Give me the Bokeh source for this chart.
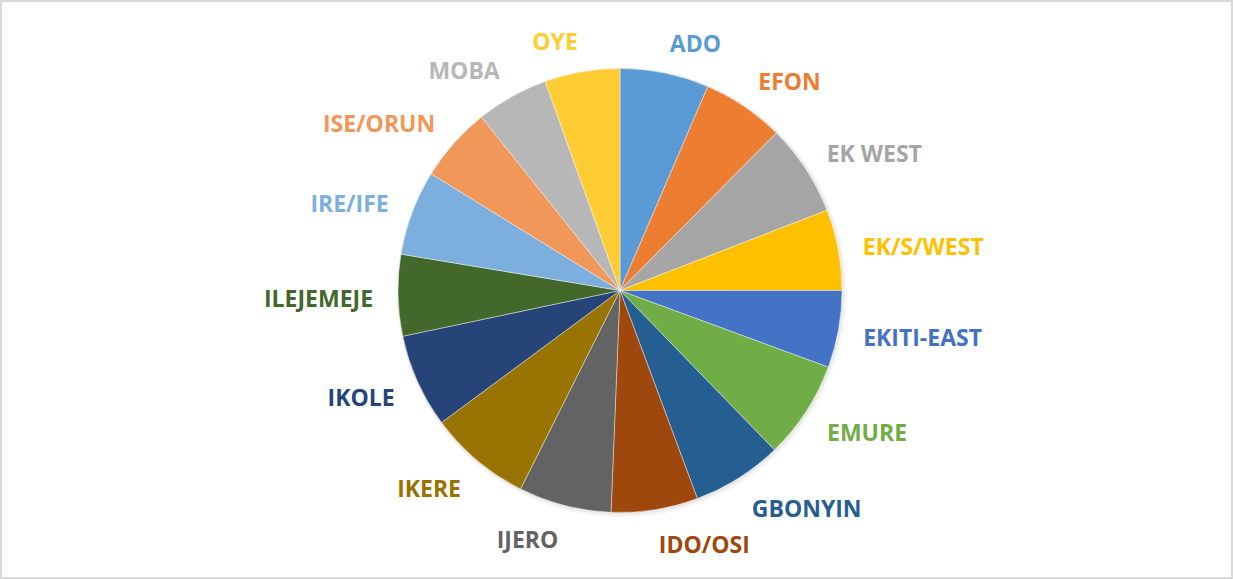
import numpy as np
from bokeh.plotting import figure
from bokeh.models import ColumnDataSource, Range1d
from bokeh.core.properties import value
from bokeh.embed import file_html
from bokeh.resources import INLINE

# ---- data ----
districts = ["ADO", "EFON", "EK WEST", "EK/S/WEST", "EKITI-EAST", "EMURE",
             "GBONYIN", "IDO/OSI", "IJERO", "IKERE", "IKOLE", "ILEJEMEJE",
             "IRE/IFE", "ISE/ORUN", "MOBA", "OYE"]
shares = [6.47, 5.97, 6.67, 5.89, 5.61, 7.14, 6.58, 6.31,
          6.75, 7.47, 6.83, 5.92, 6.19, 5.47, 5.25, 5.47]
colors = ["#5B9BD5", "#ED7D31", "#A5A5A5", "#FFC000", "#4472C4", "#70AD47",
          "#255E91", "#9E480E", "#636363", "#997300", "#264478", "#43682B",
          "#7CAFDD", "#F1975A", "#B7B7B7", "#FFCD33"]

# ---- layout ----
W, H = 1233, 579
cx, cy, r = 619.5, 289.0, 222.0
rx_lab, ry_lab = 247.0, 255.0

frac = np.array(shares) / np.sum(shares)
cum = np.concatenate([[0.0], np.cumsum(frac)]) * 2 * np.pi  # clockwise from top
start = np.pi / 2 - cum[1:]
end = np.pi / 2 - cum[:-1]
mid = (cum[:-1] + cum[1:]) / 2

src = ColumnDataSource(dict(start=start, end=end, color=colors, name=districts))

lx = cx + rx_lab * np.sin(mid)
ly = cy - 2 + ry_lab * np.cos(mid)
align = ["left" if np.sin(m) >= 0 else "right" for m in mid]
lab = ColumnDataSource(dict(x=lx, y=ly, name=districts, color=colors, align=align))

p = figure(width=W, height=H, x_range=Range1d(0, W), y_range=Range1d(0, H),
           output_backend="svg", toolbar_location=None, min_border=0,
           x_axis_location=None, y_axis_location=None)
p.grid.visible = False
p.background_fill_color = "white"
p.border_fill_color = "white"
p.outline_line_color = "#D9D9D9"
p.outline_line_width = 3

# soft shadow
p.circle(x=cx + 1.5, y=cy - 2, radius=r + 3, fill_color="black", fill_alpha=0.03, line_color=None)
p.circle(x=cx + 1, y=cy - 1, radius=r + 1.5, fill_color="black", fill_alpha=0.05, line_color=None)

p.wedge(x=cx, y=cy, radius=r, start_angle="start", end_angle="end",
        fill_color="color", line_color="white", line_width=0.6, line_alpha=0.7,
        source=src)

p.text(x="x", y="y", text="name", text_color="color", text_align="align",
       text_baseline="middle", text_font=value("Open Sans"),
       text_font_style="bold", text_font_size=value("23px"), source=lab)

open("out.html", "w").write(file_html(p, INLINE))
